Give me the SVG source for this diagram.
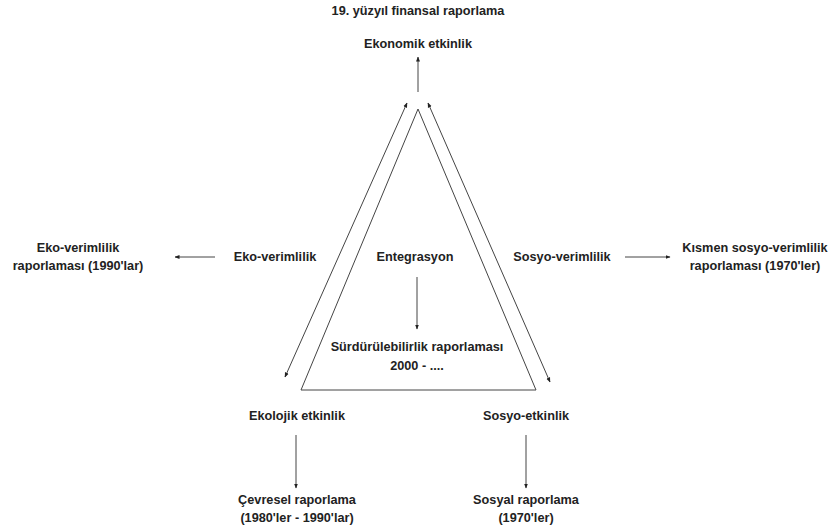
<svg xmlns="http://www.w3.org/2000/svg" width="834" height="530" viewBox="0 0 834 530">
<defs>
<marker id="ah" viewBox="0 0 10 10" refX="9" refY="5" markerWidth="5" markerHeight="5" orient="auto-start-reverse" markerUnits="userSpaceOnUse">
<path d="M0,1 L10,5 L0,9 z" fill="#222"/>
</marker>
<style>
text{font-family:"Liberation Sans",Arial,sans-serif;font-size:12.7px;font-weight:bold;fill:#222;text-anchor:middle}
.c{stroke:#444;stroke-width:1;fill:none}
.a{marker-end:url(#ah)}
.d{marker-start:url(#ah);marker-end:url(#ah)}
</style>
</defs>
<rect width="834" height="530" fill="#fff"/>
<g id="connectors">
<line class="c a" x1="418" y1="92" x2="418" y2="57"/>
<line class="c d" x1="285" y1="377" x2="407" y2="103"/>
<line class="c d" x1="428" y1="103" x2="550" y2="382"/>
<line class="c a" x1="417" y1="277" x2="417" y2="329"/>
<line class="c a" x1="215" y1="257" x2="175" y2="257"/>
<line class="c a" x1="625" y1="257" x2="670" y2="257"/>
<line class="c a" x1="296" y1="435" x2="296" y2="488"/>
<line class="c a" x1="526" y1="435" x2="526" y2="488"/>
</g>
<g id="triangle">
<polygon class="c" points="418,109 301,390 536,390"/>
</g>
<g id="title"><text x="418" y="15">19. yüzyıl finansal raporlama</text></g>
<g id="ekonomik"><text x="418" y="48">Ekonomik etkinlik</text></g>
<g id="entegrasyon"><text x="415" y="261">Entegrasyon</text></g>
<g id="surdurulebilirlik"><text x="417" y="351">Sürdürülebilirlik raporlaması</text><text x="417" y="370">2000 - ....</text></g>
<g id="eko-verimlilik"><text x="275" y="261">Eko-verimlilik</text></g>
<g id="eko-raporlama"><text x="78" y="252">Eko-verimlilik</text><text x="78" y="270">raporlaması (1990'lar)</text></g>
<g id="sosyo-verimlilik"><text x="562" y="261">Sosyo-verimlilik</text></g>
<g id="kismen"><text x="755" y="252">Kısmen sosyo-verimlilik</text><text x="755" y="270">raporlaması (1970'ler)</text></g>
<g id="ekolojik"><text x="297" y="420">Ekolojik etkinlik</text></g>
<g id="cevresel"><text x="297" y="504">Çevresel raporlama</text><text x="297" y="522">(1980'ler - 1990'lar)</text></g>
<g id="sosyo-etkinlik"><text x="526" y="420">Sosyo-etkinlik</text></g>
<g id="sosyal"><text x="526" y="504">Sosyal raporlama</text><text x="526" y="522">(1970'ler)</text></g>
</svg>
